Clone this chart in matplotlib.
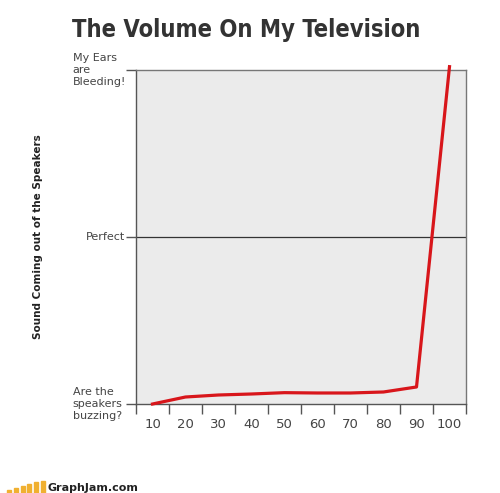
import matplotlib.pyplot as plt
from matplotlib.patches import Rectangle

# data
volume = ["10", "20", "30", "40", "50", "60", "70", "80", "90", "100"]
sound = [0, 2.1, 2.7, 3.0, 3.4, 3.3, 3.3, 3.6, 5.1, 101]
level_ticks = [0, 50, 100]
level_labels = ["Are the\nspeakers\nbuzzing?", "Perfect", "My Ears\nare\nBleeding!"]

fig = plt.figure(figsize=(5, 4.93), dpi=100)
ax = fig.add_axes([0.272, 0.1805, 0.66, 0.6775])
ax.set_facecolor("#ebebeb")

xpos = [i + 0.5 for i in range(len(volume))]
ax.plot(xpos, sound, color="#d8161b", lw=2.3, solid_joinstyle="round", clip_on=False, zorder=3)
ax.axhline(50, color="#333333", lw=0.9, zorder=2)

ax.set_xlim(0, 10)
ax.set_ylim(0, 100)

ax.set_xticks(range(11))
ax.set_xticklabels([])
ax.set_xticks(xpos, minor=True)
ax.set_xticklabels(volume, minor=True, fontsize=9.5, color="#444444")
ax.tick_params(axis="x", which="major", length=7, width=1, color="#555555", direction="out")
ax.tick_params(axis="x", which="minor", length=0, pad=10)

ax.set_yticks(level_ticks)
ax.set_yticklabels([])
ax.tick_params(axis="y", length=7, width=1, color="#555555", direction="out")
for yv, lab in zip(level_ticks, level_labels):
    x0 = -0.1515 if lab == "Perfect" else -0.192
    ax.text(x0, yv, lab, transform=ax.get_yaxis_transform(), ha="left", va="center",
            fontsize=8, color="#444444", linespacing=1.3)

for s in ax.spines.values():
    s.set_color("#777777")
    s.set_linewidth(1)
ax.spines["left"].set_color("#555555")
ax.spines["bottom"].set_color("#555555")

fig.text(72 / 500, 1 - 30 / 493, "The Volume On My Television", ha="left", va="center",
         fontsize=17, fontweight="heavy", fontstretch="condensed", color="#333333")
fig.text(38 / 500, 1 - 237 / 493, "Sound Coming out of the Speakers", rotation=90,
         ha="center", va="center", fontsize=7.5, fontweight="bold", color="#222222")

# GraphJam footer
bar_x = [7, 14, 21, 27, 34, 41]
bar_top = [490, 488, 486, 484, 482, 481]
for bx, bt in zip(bar_x, bar_top):
    fig.patches.append(Rectangle((bx / 500, 0), 3.5 / 500, (493 - bt) / 493,
                                 transform=fig.transFigure, color="#f0b030"))
fig.text(48 / 500, 1 - 488 / 493, "GraphJam.com", ha="left", va="center",
         fontsize=8, fontweight="bold", color="#222222")

fig.savefig("out.png", dpi=100)
